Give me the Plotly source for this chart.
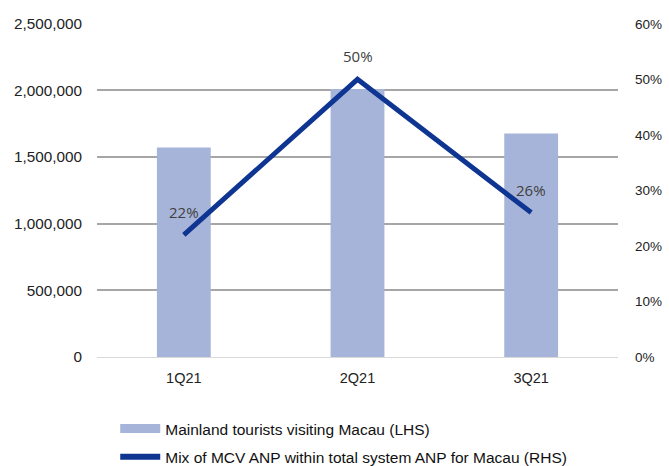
import plotly.graph_objects as go

quarters = ["1Q21", "2Q21", "3Q21"]
tourists = [1572000, 2010000, 1677000]
mix_pct = [0.22, 0.50, 0.26]
mix_labels = ["22%", "50%", "26%"]

left_ticks = [0, 500000, 1000000, 1500000, 2000000, 2500000]
right_ticks = [0, 0.1, 0.2, 0.3, 0.4, 0.5, 0.6]

bar_name = "Mainland tourists visiting Macau (LHS)"
line_name = "Mix of MCV ANP within total system ANP for Macau (RHS)"
bar_color = "#A7B4D9"
line_color = "#0E3591"

fig = go.Figure()
fig.add_trace(go.Bar(
    x=quarters, y=tourists, name=bar_name, showlegend=False,
    marker=dict(color=bar_color, line=dict(width=0)), width=0.31, yaxis="y",
))
fig.add_trace(go.Scatter(
    x=quarters, y=mix_pct, name=line_name, showlegend=False,
    mode="lines", line=dict(color=line_color, width=5), yaxis="y2",
))
# legend entries
fig.add_trace(go.Scatter(x=[None], y=[None], mode="lines", name=bar_name, legendgroup="a",
                         line=dict(color=bar_color, width=9), yaxis="y"))
fig.add_trace(go.Scatter(x=[None], y=[None], mode="lines", name=line_name, legendgroup="b",
                         line=dict(color=line_color, width=6), yaxis="y2"))

for q, v, t in zip(quarters, mix_pct, mix_labels):
    fig.add_annotation(x=q, y=v, yref="y2", text=t, showarrow=False, yshift=23,
                       font=dict(family="Open Sans, Liberation Sans, sans-serif", size=15, color="#404040"))

fig.update_layout(
    width=669, height=466,
    margin=dict(l=97, r=51, t=23, b=109),
    paper_bgcolor="white", plot_bgcolor="white",
    font=dict(family="Liberation Sans, Arial, sans-serif", size=14, color="#222222"),
    bargap=0.69,
    xaxis=dict(showgrid=False, showline=False, ticks="", tickfont=dict(size=14.5),
               ticklabelstandoff=10),
    yaxis=dict(range=[0, 2506000], tickvals=left_ticks, tickformat=",d",
               showgrid=True, gridcolor="#A6A6A6", gridwidth=2,
               zeroline=True, zerolinecolor="#D9D9D9", zerolinewidth=1,
               ticks="", ticklen=0, showline=False, tickfont=dict(size=15.3),
               ticklabelstandoff=14, automargin=False),
    yaxis2=dict(range=[0, 0.6014], tickvals=right_ticks, tickformat=".0%",
                overlaying="y", side="right", showgrid=False, zeroline=False,
                showline=False, tickfont=dict(size=13.5), ticklabelstandoff=16,
                automargin=False),
    showlegend=True,
    legend=dict(x=0.035, xref="paper", y=0.116, yref="container", xanchor="left", yanchor="top",
                orientation="v", font=dict(size=15.5, color="#111111"), tracegroupgap=5,
                itemwidth=40, bgcolor="rgba(0,0,0,0)"),
)

fig.write_html("out.html")
